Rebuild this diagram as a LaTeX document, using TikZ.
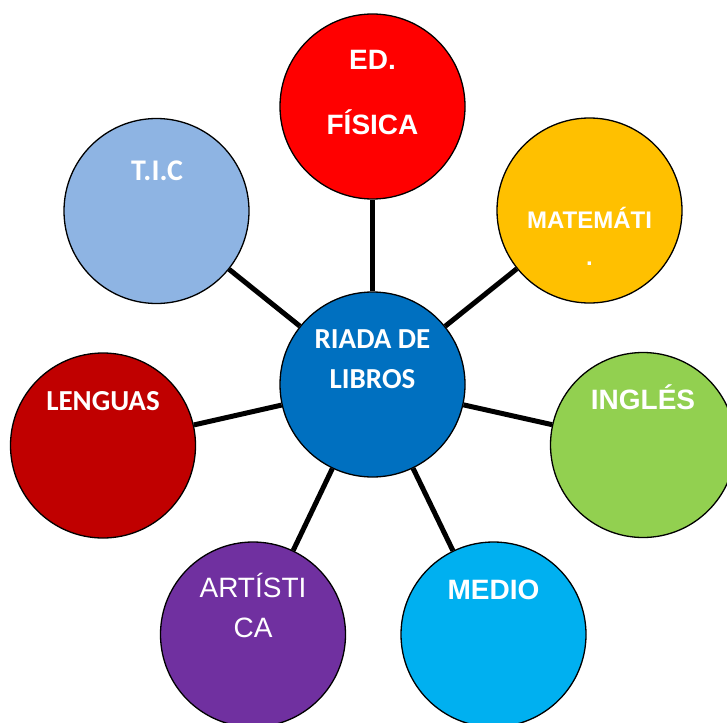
\documentclass[tikz,border=0pt]{standalone}
\usepackage{fontspec}
\setmainfont{Liberation Sans}
\newfontfamily\calib{Carlito}
\definecolor{cFis}{HTML}{FF0000}
\definecolor{cMat}{HTML}{FFC000}
\definecolor{cIng}{HTML}{92D050}
\definecolor{cMed}{HTML}{00B0F0}
\definecolor{cArt}{HTML}{7030A0}
\definecolor{cLen}{HTML}{C00000}
\definecolor{cTic}{HTML}{8EB4E3}
\definecolor{cCen}{HTML}{0070C0}
\begin{document}
\begin{tikzpicture}[x=1pt,y=-1pt,
  bubble/.style={circle,draw=black,line width=1.3pt,minimum size=185pt,inner sep=0pt},
  spoke/.style={line width=5pt,black},
  arialb/.style={text=white,font=\fontsize{28}{34}\selectfont\bfseries,anchor=base,inner sep=0pt},
  arialr/.style={text=white,font=\fontsize{28}{34}\selectfont,anchor=base,inner sep=0pt},
  calb/.style={text=white,font=\calib\fontsize{29}{35}\selectfont\bfseries,anchor=base,inner sep=0pt}]
\useasboundingbox (0,0) rectangle (727,722);
\node[bubble,fill=cFis] (fis) at (372.5,106.5) {};
\node[bubble,fill=cMat] (mat) at (589.5,210.5) {};
\node[bubble,fill=cIng] (ing) at (643,445) {};
\node[bubble,fill=cMed] (med) at (493.5,634.5) {};
\node[bubble,fill=cArt] (art) at (253,634.5) {};
\node[bubble,fill=cLen] (len) at (103,445.5) {};
\node[bubble,fill=cTic] (tic) at (156.5,211) {};
\node[bubble,fill=cCen] (cen) at (372.5,384.5) {};
\foreach \n in {fis,mat,ing,med,art,len,tic}{\draw[spoke] (cen) -- (\n);}
\node[arialb] (t1) at (372.5,70) {ED.};
\node[arialb] (t2) at (372.5,135) {FÍSICA};
\node[arialb,font=\fontsize{24}{30}\selectfont\bfseries] (t3) at (589.5,228) {MATEMÁTI};
\node[arialb,font=\fontsize{24}{30}\selectfont\bfseries] (t4) at (589.5,265) {.};
\node[arialb] (t5) at (643,409) {INGLÉS};
\node[arialb] (t6) at (493.5,599) {MEDIO};
\node[arialr] (t7) at (253,597) {ARTÍSTI};
\node[arialr] (t8) at (253,637) {CA};
\node[calb] (t9) at (103,410) {LENGUAS};
\node[calb,font=\calib\fontsize{30}{36}\selectfont\bfseries] (t10) at (157,180) {T.I.C};
\node[calb] (t11) at (372.5,348) {RIADA DE};
\node[calb] (t12) at (372.5,388) {LIBROS};
\end{tikzpicture}
\end{document}
